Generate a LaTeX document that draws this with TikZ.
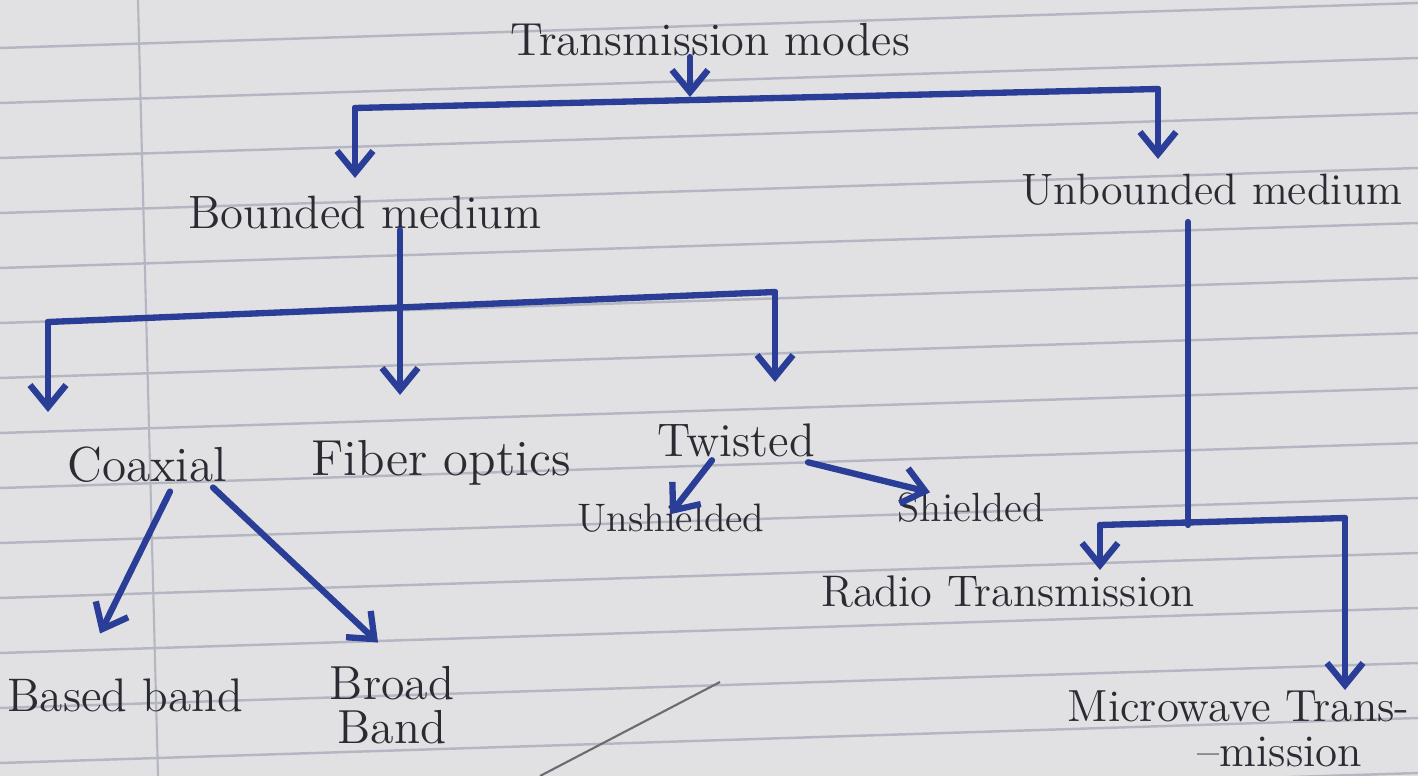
\documentclass[tikz,border=0pt]{standalone}
\usetikzlibrary{arrows.meta}
\definecolor{paper}{HTML}{E1E1E3}
\definecolor{rule}{HTML}{B4B7C2}
\definecolor{ink}{HTML}{2A3E98}
\definecolor{pencil}{HTML}{2B2B33}
\tikzset{
  wire/.style={draw=ink, line width=1.8pt, line cap=round, line join=round},
  arr/.style={wire, -{Straight Barb[length=2.2mm, width=3.6mm, line width=1.8pt]}},
  label/.style={text=pencil, inner sep=0pt, font=\fontsize{14}{16}\selectfont},
  fs/.style={font=\fontsize{#1}{#1}\selectfont},
}
\begin{document}
\begin{tikzpicture}[x=0.01cm, y=-0.01cm]
  % ruled notebook page
  \fill[paper] (0,0) rectangle (1418,776);
  \useasboundingbox (0,0) rectangle (1418,776);
  \foreach \i in {0,...,15} {
    \draw[rule, line width=0.7pt] (0,{-7+55*\i}) -- (1418,{-52+55*\i});
  }
  \draw[rule, line width=0.6pt] (138,0) -- (158,776);
  \draw[pencil!70, line width=0.6pt] (540,776) -- (720,682);

  % labels
  \node[label, fs=13.2] (title)      at (710,40)   {Transmission modes};
  \node[label, fs=13.3] (bounded)    at (365,213)  {Bounded medium};
  \node[label, fs=12.5] (unbounded)  at (1212,190) {Unbounded medium};
  \node[label, fs=14]   (coaxial)    at (147,465)  {Coaxial};
  \node[label, fs=14.4] (fiber)      at (441,463)  {Fiber optics};
  \node[label, fs=13.4] (twisted)    at (736,440)  {Twisted};
  \node[label, fs=11.3] (unshielded) at (671,518)  {Unshielded};
  \node[label, fs=11.6] (shielded)   at (971,508)  {Shielded};
  \node[label, fs=12.6] (radio)      at (1008,592) {Radio Transmission};
  \node[label, fs=13.4] (based)      at (125,695)  {Based band};
  \node[label, fs=13.6, align=center] (broad) at (392,705) {Broad\\[-1pt]Band};
  \node[label, fs=12.8, align=left, anchor=north west] (micro) at (1067,690)
       {Microwave Trans-\\[0pt]\hspace*{1.3cm}--mission};

  % junction points of the branching lines
  \coordinate (tj) at (690,97);
  \coordinate (tl) at (355,108);
  \coordinate (tr) at (1158,89);
  \coordinate (bv) at (400,230);
  \coordinate (bl) at (48,322);
  \coordinate (br) at (775,292);
  \coordinate (uv) at (1188,222);
  \coordinate (ul) at (1100,525);
  \coordinate (ur) at (1345,518);

  % transmission modes
  \draw[arr] (title.south -| tj) -- (tj);
  \draw[wire] (tl) -- (tr);
  \draw[arr] (tl) -- ++(0,70);
  \draw[arr] (tr) -- ++(0,70);

  % bounded medium
  \draw[arr] (bv) -- ++(0,165);
  \draw[wire] (bl) -- (br);
  \draw[arr] (bl) -- ++(0,90);
  \draw[arr] (br) -- ++(0,90);

  % coaxial
  \draw[arr] ([xshift=0.23cm, yshift=-0.08cm]coaxial.south) -- ++(-70,142);
  \draw[arr] ([xshift=0.66cm, yshift=-0.04cm]coaxial.south) -- ++(165,155);

  % twisted pair
  \draw[arr] ([xshift=-0.24cm, yshift=-0.03cm]twisted.south) -- ++(-42,54);
  \draw[arr] ([xshift=0.72cm, yshift=-0.05cm]twisted.south) -- ++(122,30);

  % unbounded medium
  \draw[wire] (uv) -- (uv |- ul);
  \draw[wire] (ul) -- (ur);
  \draw[arr] (ul) -- ++(0,45);
  \draw[arr] (ur) -- ++(0,172);
\end{tikzpicture}
\end{document}
